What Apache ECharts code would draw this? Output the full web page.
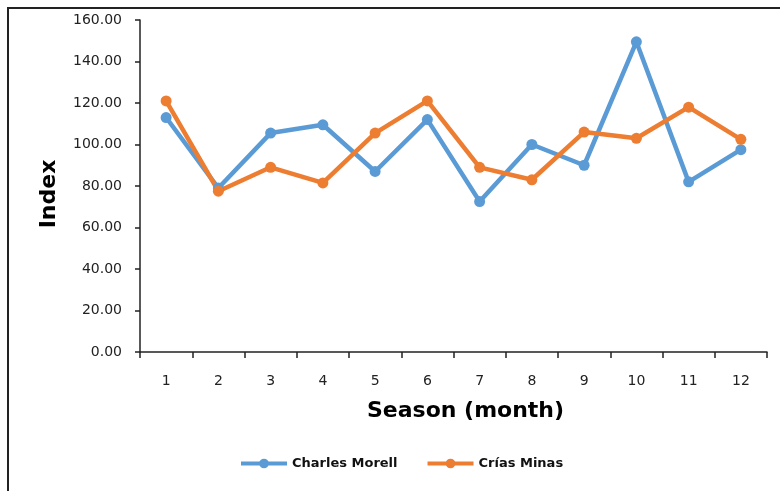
<!DOCTYPE html>
<html>
<head>
<meta charset="utf-8">
<script src="https://cdn.jsdelivr.net/npm/echarts@6/dist/echarts.min.js"></script>
<style>
  html, body { margin: 0; padding: 0; background: #fff; }
  #chart { width: 780px; height: 491px; }
</style>
</head>
<body>
<div id="chart"></div>
<script>
const months = ['1', '2', '3', '4', '5', '6', '7', '8', '9', '10', '11', '12'];
const charlesMorell = [113, 79, 105.5, 109.5, 87, 112, 72.5, 100, 90, 149.5, 82, 97.5];
const criasMinas = [121, 77.5, 89, 81.5, 105.5, 121, 89, 83, 106, 103, 118, 102.5];
const yTicks = { min: 0, max: 160, interval: 20 };

const font = 'DejaVu Sans';
const chart = echarts.init(document.getElementById('chart'));

const option = {
    animation: false,
    backgroundColor: '#fff',
    textStyle: { fontFamily: font },
    grid: { left: 140, right: 13, top: 20, bottom: 139 },
    graphic: [{
        type: 'polyline',
        shape: { points: [[8, 491], [8, 8], [780, 8]] },
        style: { stroke: '#222', lineWidth: 2, fill: null }
    }],
    legend: {
        bottom: 16,
        left: 234,
        itemWidth: 46,
        itemHeight: 12,
        itemGap: 28,
        lineStyle: { width: 4 },
        textStyle: { fontSize: 13, fontWeight: 'bold', color: '#111', fontFamily: font },
        data: ['Charles Morell', 'Crías Minas']
    },
    xAxis: {
        type: 'category',
        data: months,
        boundaryGap: true,
        name: 'Season (month)',
        nameLocation: 'middle',
        nameGap: 48,
        nameTextStyle: { fontSize: 22, fontWeight: 'bold', color: '#000', fontFamily: font, padding: [0, 0, 0, 24] },
        axisLine: { lineStyle: { color: '#222', width: 1.5 } },
        axisTick: { show: true, length: 6, lineStyle: { color: '#222', width: 1.5 } },
        axisLabel: { fontSize: 14, color: '#222', margin: 22 },
        splitLine: { show: false }
    },
    yAxis: {
        type: 'value',
        min: yTicks.min,
        max: yTicks.max,
        interval: yTicks.interval,
        name: 'Index',
        nameLocation: 'middle',
        nameGap: 80,
        nameTextStyle: { fontSize: 22, fontWeight: 'bold', color: '#000', fontFamily: font, padding: [0, 16, 0, 0] },
        axisLine: { show: true, lineStyle: { color: '#222', width: 1.5 } },
        axisTick: { show: true, length: 5, lineStyle: { color: '#222', width: 1.5 } },
        axisLabel: {
            fontSize: 14,
            color: '#222',
            margin: 18,
            formatter: v => v.toFixed(2)
        },
        splitLine: { show: false }
    },
    series: [
        {
            name: 'Charles Morell',
            type: 'line',
            data: charlesMorell,
            symbol: 'circle',
            symbolSize: 11,
            color: '#5B9BD5',
            lineStyle: { width: 4.5, color: '#5B9BD5' }
        },
        {
            name: 'Crías Minas',
            type: 'line',
            data: criasMinas,
            symbol: 'circle',
            symbolSize: 11,
            color: '#ED7D31',
            lineStyle: { width: 4.5, color: '#ED7D31' }
        }
    ]
};

chart.setOption(option);
window.addEventListener('resize', () => chart.resize());
</script>
</body>
</html>
